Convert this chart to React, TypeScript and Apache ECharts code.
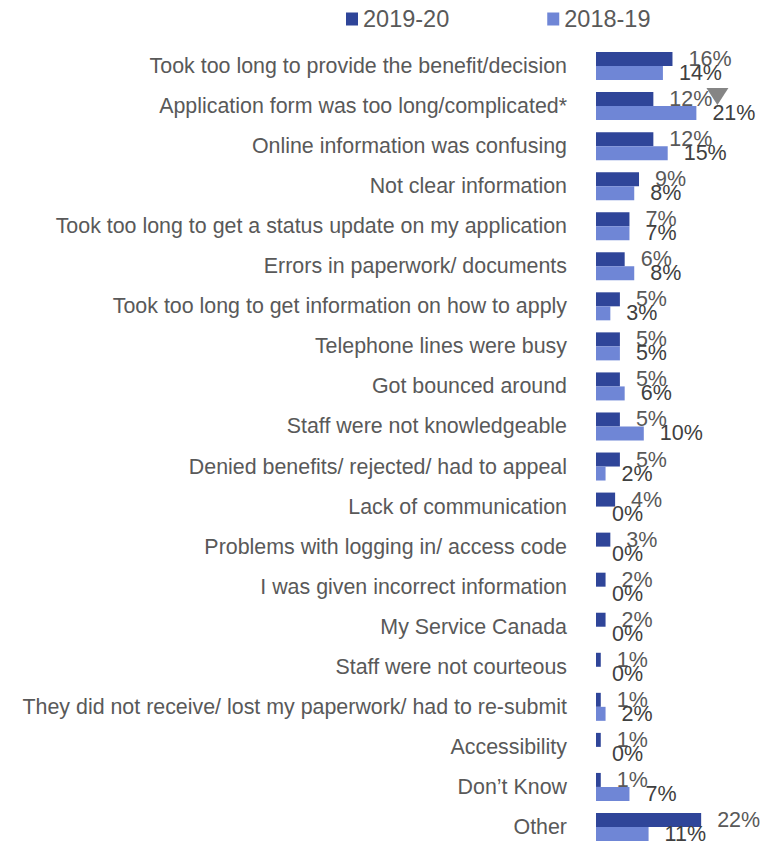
import React, { useEffect, useRef } from "react";
import * as echarts from "echarts";

const categories = [
  "Took too long to provide the benefit/decision",
  "Application form was too long/complicated*",
  "Online information was confusing",
  "Not clear information",
  "Took too long to get a status update on my application",
  "Errors in paperwork/ documents",
  "Took too long to get information on how to apply",
  "Telephone lines were busy",
  "Got bounced around",
  "Staff were not knowledgeable",
  "Denied benefits/ rejected/ had to appeal",
  "Lack of communication",
  "Problems with logging in/ access code",
  "I was given incorrect information",
  "My Service Canada",
  "Staff were not courteous",
  "They did not receive/ lost my paperwork/ had to re-submit",
  "Accessibility",
  "Don\u2019t Know",
  "Other",
];

const values2019_20 = [16, 12, 12, 9, 7, 6, 5, 5, 5, 5, 5, 4, 3, 2, 2, 1, 1, 1, 1, 22];
const values2018_19 = [14, 21, 15, 8, 7, 8, 3, 5, 6, 10, 2, 0, 0, 0, 0, 0, 2, 0, 7, 11];

const seriesNames = ["2019-20", "2018-19"];

// significance marker (down triangle) beside "Application form..." row
const markerCategory = "Application form was too long/complicated*";
const markerValue = 25.4;

const FONT = "'Liberation Sans', Arial, sans-serif";

export default function App() {
  const ref = useRef<HTMLDivElement>(null);

  useEffect(() => {
    document.body.style.margin = "0";
    if (!ref.current) return;
    const chart = echarts.init(ref.current, undefined, { renderer: "svg" });
    const labelFmt = (p: any) => `${p.value}%`;
    chart.setOption({
      animation: false,
      textStyle: { fontFamily: FONT },
      legend: {
        data: seriesNames,
        top: 2,
        left: 341,
        itemWidth: 12,
        itemHeight: 13,
        itemGap: 98,
        icon: "rect",
        textStyle: { fontSize: 23.5, color: "#595959", fontFamily: FONT },
      },
      grid: {
        left: 596,
        top: 46,
        width: 143.4,
        height: 801,
        outerBoundsMode: "none",
      },
      xAxis: {
        type: "value",
        min: 0,
        max: 30,
        show: false,
      },
      yAxis: {
        type: "category",
        data: categories,
        inverse: true,
        axisLine: { show: false },
        axisTick: { show: false },
        splitLine: { show: false },
        axisLabel: {
          fontSize: 21.4,
          color: "#595959",
          margin: 29,
          fontFamily: FONT,
        },
      },
      series: [
        {
          name: seriesNames[0],
          type: "bar",
          data: values2019_20,
          barWidth: 14,
          barGap: "0%",
          itemStyle: { color: "#2F4599" },
          label: {
            show: true,
            position: "right",
            distance: 16,
            fontSize: 21.5,
            color: "#595959",
            fontFamily: FONT,
            formatter: labelFmt,
          },
        },
        {
          name: seriesNames[1],
          type: "bar",
          data: values2018_19,
          barWidth: 14,
          barGap: "0%",
          itemStyle: { color: "#6F86D6" },
          label: {
            show: true,
            position: "right",
            distance: 16,
            fontSize: 21.5,
            color: "#404040",
            fontFamily: FONT,
            formatter: labelFmt,
          },
        },
        {
          name: "marker",
          type: "scatter",
          data: [[markerValue, markerCategory]],
          symbol: "triangle",
          symbolRotate: 180,
          symbolSize: [22, 17],
          symbolOffset: [0, -9.5],
          itemStyle: { color: "#666666" },
          z: 5,
        },
      ],
    });
    return () => chart.dispose();
  }, []);

  return <div ref={ref} style={{ width: 775, height: 844 }} />;
}
